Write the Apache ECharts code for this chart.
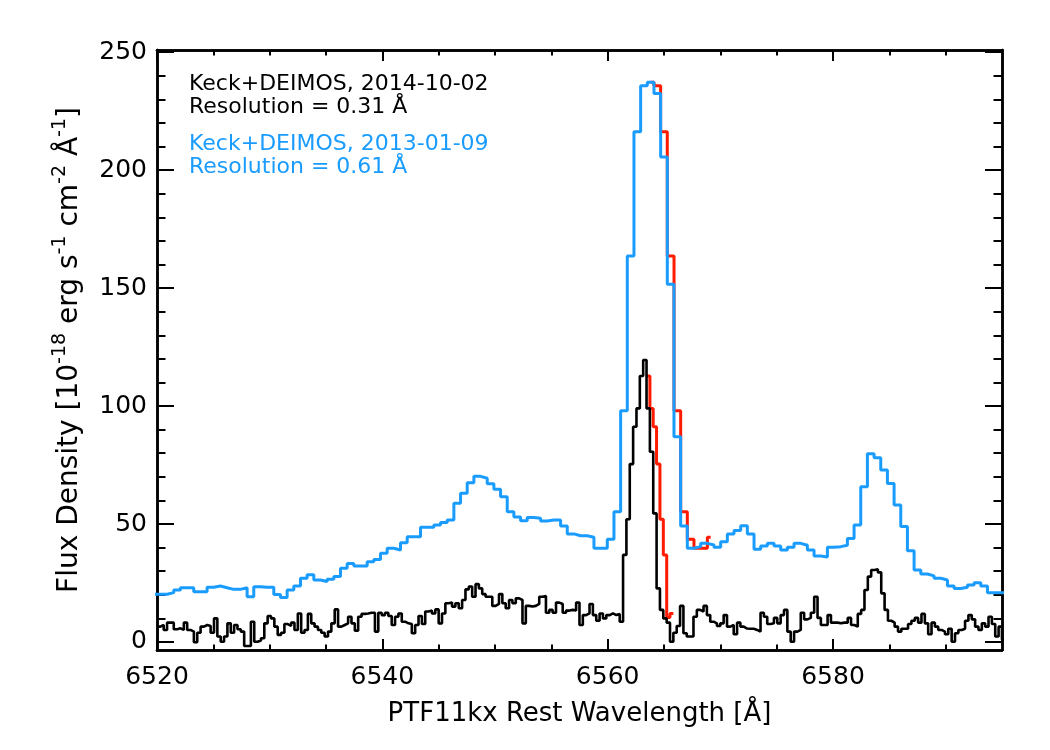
<!DOCTYPE html>
<html>
<head>
<meta charset="utf-8">
<title>PTF11kx H-alpha profile</title>
<script src="https://cdn.jsdelivr.net/npm/echarts@6/dist/echarts.min.js"></script>
<style>
  html, body { margin: 0; padding: 0; background: #fff; }
  #chart { width: 1050px; height: 750px; }
</style>
</head>
<body>
<div id="chart"></div>
<script>
// ---- data ----
// 2014-10-02 spectrum (black), uniform pixel grid in Angstrom
var blackStart = 6520.0;
var blackStep = 0.2976;
var blackFlux = [
  6.5, 7.2, 5.1, 8.2, 8.2, 5.4, 5.8, 5.1, 8.2, 5.1,
  4.4, -0.1, 3.9, 6.5, 7.2, 6.8, 3.9, 10.0, 2.3, 0.1,
  2.3, 7.9, 3.9, 7.2, 5.4, 4.4, -1.7, -1.7, 8.6, 0.1,
  0.6, 1.6, 7.9, 11.0, 10.0, 6.5, 3.0, 3.9, 7.6, 6.8,
  8.2, 5.1, 12.1, 3.9, 5.1, 11.9, 7.9, 6.5, 5.1, 3.9,
  2.3, 4.4, 7.9, 13.8, 6.5, 7.2, 7.9, 10.7, 7.9, 4.8,
  10.7, 11.9, 12.1, 12.4, 12.4, 4.4, 12.4, 11.4, 12.4, 11.0,
  7.2, 10.7, 12.1, 8.6, 7.9, 7.6, 3.7, 7.2, 11.0, 7.6,
  12.9, 13.3, 12.1, 13.8, 7.9, 12.1, 16.4, 16.7, 15.0, 16.4,
  14.3, 17.8, 22.3, 23.5, 19.2, 24.5, 22.7, 20.3, 19.2, 19.2,
  15.3, 16.1, 20.3, 16.4, 14.3, 17.8, 16.4, 18.5, 17.8, 7.9,
  15.3, 15.0, 15.3, 16.1, 19.2, 19.5, 12.4, 13.6, 12.4, 16.7,
  16.1, 12.4, 13.3, 13.6, 13.3, 16.7, 7.2, 11.4, 12.1, 16.1,
  11.4, 9.0, 12.1, 10.0, 11.4, 12.1, 11.4, 11.9, 8.6, 36.9,
  52.0, 75.4, 91.2, 99.0, 112.7, 119.5, 99.0, 80.6, 54.5, 22.7,
  13.6, 10.0, 8.2, 0.1, 3.9, 6.8, 15.3, 3.7, 2.3, 2.3,
  10.7, 13.6, 12.9, 15.3, 11.4, 8.6, 7.9, 6.8, 7.9, 11.4,
  6.5, 7.2, 3.3, 8.2, 6.5, 5.7, 5.6, 5.6, 5.1, 4.4,
  12.4, 10.7, 7.6, 7.9, 10.2, 7.9, 11.4, 13.6, 4.4, 0.1,
  4.4, 5.1, 12.4, 9.6, 10.2, 12.4, 19.2, 10.2, 7.2, 7.2,
  11.4, 8.2, 8.2, 7.9, 8.2, 8.2, 10.2, 7.2, 6.5, 11.9,
  13.6, 22.0, 27.7, 30.5, 30.8, 29.5, 20.6, 13.6, 9.0, 8.2,
  6.5, 4.4, 5.6, 5.6, 7.6, 9.0, 10.2, 8.2, 11.9, 7.9,
  3.3, 8.2, 6.5, 5.1, 4.4, 3.3, 5.6, 0.1, 3.7, 5.1,
  5.6, 9.0, 11.4, 9.6, 6.5, 5.1, 7.9, 6.5, 10.7, 7.6,
  2.3, 6.5, 1.0
];

// 2013-01-09 spectrum (blue)
var blueStart = 6519.71;
var blueStep = 0.592;
var blueFlux = [
  20.2, 20.2, 20.9, 22.0, 23.0, 23.0, 21.3, 21.3, 23.2, 23.7,
  23.0, 22.3, 22.3, 23.0, 19.2, 23.4, 23.2, 23.2, 20.1, 18.8,
  22.0, 23.7, 27.0, 28.5, 26.3, 25.6, 26.6, 27.7, 31.2, 33.3,
  32.2, 32.2, 34.0, 35.0, 37.6, 39.7, 39.0, 42.1, 44.6, 44.6,
  48.6, 48.6, 49.6, 50.6, 51.7, 58.8, 63.0, 67.5, 70.2, 69.4,
  67.1, 64.7, 61.6, 55.2, 53.0, 51.4, 52.8, 52.4, 51.3, 51.7,
  51.7, 49.2, 45.8, 45.0, 45.0, 44.4, 39.7, 39.7, 43.5, 55.2,
  98.0, 163.6, 216.2, 235.7, 237.2, 232.5, 205.6, 151.6, 87.0, 49.2,
  39.7, 40.4, 41.8, 41.1, 40.1, 42.5, 45.8, 47.2, 49.3, 45.8,
  39.3, 40.7, 41.8, 40.7, 39.0, 40.1, 41.8, 41.0, 39.0, 36.4,
  36.0, 40.1, 40.4, 41.0, 43.9, 49.6, 65.8, 79.8, 78.1, 72.9,
  67.2, 58.1, 48.9, 38.7, 30.5, 28.8, 28.0, 27.0, 26.3, 23.7,
  22.7, 23.2, 24.2, 25.1, 23.7, 20.9, 20.9, 20.9
];

// red: blue side of each line folded onto the red side
var redBlueEdges = [6563.81, 6564.11, 6564.70, 6565.29, 6565.89, 6566.48, 6567.07, 6567.66, 6568.25, 6568.85, 6569.14];
var redBlueFlux = [237.2, 235.7, 216.2, 163.6, 98.0, 55.2, 43.5, 39.7, 39.7, 44.4];
var redBlackEdges = [6563.45, 6563.75, 6564.04, 6564.34, 6564.64, 6564.94, 6565.24, 6565.53, 6565.83];
var redBlackFlux = [112.7, 99.0, 91.2, 75.4, 52.0, 36.9, 10.4, 12.1];

// ticks
var xMajor = [6520, 6540, 6560, 6580];
var xMinor = [6525, 6530, 6535, 6545, 6550, 6555, 6565, 6570, 6575, 6585, 6590];
var yMajor = [0, 50, 100, 150, 200, 250];
var yMinor = [10, 20, 30, 40, 60, 70, 80, 90, 110, 120, 130, 140, 160, 170, 180, 190, 210, 220, 230, 240];

// ---- build step data ----
function gridSteps(start, step, flux) {
  var pts = [];
  for (var i = 0; i < flux.length; i++) pts.push([start + i * step, flux[i]]);
  pts.push([start + flux.length * step, flux[flux.length - 1]]);
  return pts;
}
function edgeSteps(edges, flux) {
  var pts = [];
  for (var i = 0; i < flux.length; i++) pts.push([edges[i], flux[i]]);
  pts.push([edges[flux.length], flux[flux.length - 1]]);
  return pts;
}

var FONT = 'DejaVu Sans';
var XMIN = 6520, XMAX = 6595, YMIN = -3.4, YMAX = 250.9;
var AXW = 2.5;

// one axis per tick set (major / minor) on each side of the box
function xAx(pos, ticks, len, labels) {
  var a = {
    type: 'value', position: pos, min: XMIN, max: XMAX,
    axisLine: { show: true, onZero: false, lineStyle: { color: '#000', width: AXW } },
    axisTick: { show: true, inside: true, length: len, customValues: ticks, lineStyle: { color: '#000', width: 2 } },
    axisLabel: { show: false },
    splitLine: { show: false }
  };
  if (labels) {
    a.axisLabel = {
      show: true, customValues: ticks, margin: 15, color: '#000', fontSize: 25, fontFamily: FONT,
      formatter: function (v) { return String(v); }
    };
    a.name = 'PTF11kx Rest Wavelength [Å]';
    a.nameLocation = 'middle';
    a.nameGap = 51;
    a.nameTextStyle = { color: '#000', fontSize: 26, fontFamily: FONT };
  }
  return a;
}
function yAx(pos, ticks, len, labels) {
  var a = {
    type: 'value', position: pos, min: YMIN, max: YMAX,
    axisLine: { show: true, onZero: false, lineStyle: { color: '#000', width: AXW } },
    axisTick: { show: true, inside: true, length: len, customValues: ticks, lineStyle: { color: '#000', width: 2 } },
    axisLabel: { show: false },
    splitLine: { show: false }
  };
  if (labels) {
    a.axisLabel = {
      show: true, customValues: ticks, margin: 10, color: '#000', fontSize: 25, fontFamily: FONT,
      formatter: function (v) { return String(v); }
    };
    a.name = 'Flux Density [10{sup|-18} erg s{sup|-1} cm{sup|-2} Å{sup|-1}]';
    a.nameLocation = 'middle';
    a.nameGap = 64;
    a.nameTextStyle = {
      color: '#000', fontSize: 28, fontFamily: FONT, lineHeight: 38,
      rich: { sup: { fontSize: 19, lineHeight: 19, verticalAlign: 'top', fontFamily: FONT, color: '#000' } }
    };
  }
  return a;
}

var chart = echarts.init(document.getElementById('chart'));
chart.setOption({
  animation: false,
  backgroundColor: '#fff',
  textStyle: { fontFamily: FONT },
  grid: { left: 157, right: 48, top: 50, bottom: 100, containLabel: false },
  xAxis: [
    xAx('bottom', xMajor, 11, true),
    xAx('bottom', xMinor, 5.5, false),
    xAx('top', xMajor, 11, false),
    xAx('top', xMinor, 5.5, false)
  ],
  yAxis: [
    yAx('left', yMajor, 17, true),
    yAx('left', yMinor, 8.5, false),
    yAx('right', yMajor, 17, false),
    yAx('right', yMinor, 8.5, false)
  ],
  series: [
    {
      name: '2014-10-02', type: 'line', step: 'end', showSymbol: false, symbol: 'none',
      data: gridSteps(blackStart, blackStep, blackFlux),
      lineStyle: { color: '#000', width: 2.6 }, itemStyle: { color: '#000' }, z: 2
    },
    {
      name: 'fold 2014', type: 'line', step: 'end', showSymbol: false, symbol: 'none',
      data: edgeSteps(redBlackEdges, redBlackFlux),
      lineStyle: { color: '#ff1a00', width: 3 }, itemStyle: { color: '#ff1a00' }, z: 1
    },
    {
      name: 'fold 2013', type: 'line', step: 'end', showSymbol: false, symbol: 'none',
      data: edgeSteps(redBlueEdges, redBlueFlux),
      lineStyle: { color: '#ff1a00', width: 3 }, itemStyle: { color: '#ff1a00' }, z: 3
    },
    {
      name: '2013-01-09', type: 'line', step: 'end', showSymbol: false, symbol: 'none',
      data: gridSteps(blueStart, blueStep, blueFlux),
      lineStyle: { color: '#1a9cff', width: 3 }, itemStyle: { color: '#1a9cff' }, z: 4
    }
  ],
  graphic: [
    {
      type: 'text', left: 189, top: 73, silent: true,
      style: { text: 'Keck+DEIMOS, 2014-10-02\nResolution = 0.31 Å', font: '22px "DejaVu Sans"', fill: '#000', lineHeight: 23 }
    },
    {
      type: 'text', left: 189, top: 133, silent: true,
      style: { text: 'Keck+DEIMOS, 2013-01-09\nResolution = 0.61 Å', font: '22px "DejaVu Sans"', fill: '#1a9cff', lineHeight: 23 }
    }
  ]
});
</script>
</body>
</html>
